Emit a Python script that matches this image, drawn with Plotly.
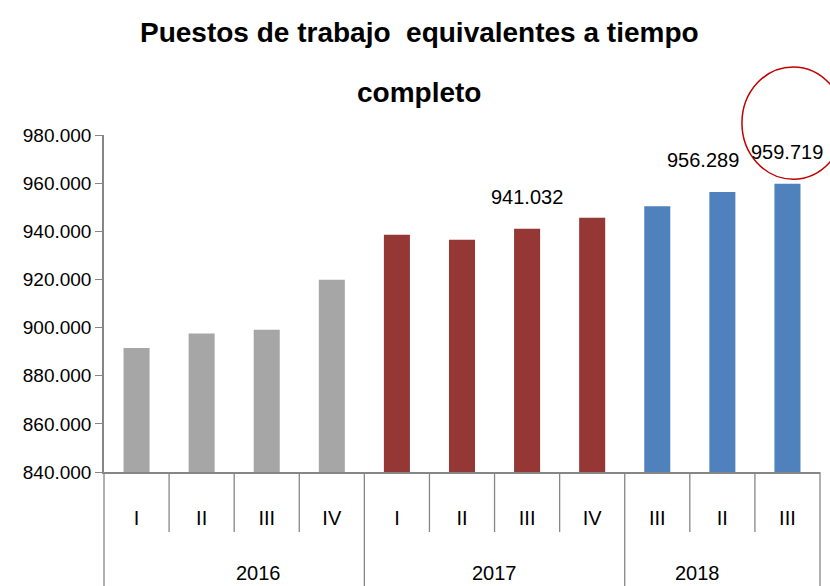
import plotly.graph_objects as go

years = ["2016", "2017", "2018"]
quarters = ["I", "II", "III", "IV", "I", "II", "III", "IV", "III", "II", "III"]
year_of_bar = ["2016"] * 4 + ["2017"] * 4 + ["2018"] * 3
values = [891500, 897500, 899100, 919900,
          938600, 936500, 941032, 945600,
          950400, 956289, 959719]
year_colors = {"2016": "#A6A6A6", "2017": "#953735", "2018": "#4F81BD"}
labelled_bars = [6, 9, 10]
label_xshift = {6: 0, 9: -19, 10: 0}

FONT = "Liberation Sans, Arial, sans-serif"
AXIS = "#868686"

n = len(values)
xs = list(range(n))

fig = go.Figure()
fig.add_trace(go.Bar(
    x=xs, y=values, width=0.4,
    marker=dict(color=[year_colors[y] for y in year_of_bar], line=dict(width=0)),
    hoverinfo="skip", showlegend=False,
))

def fmt(v):
    return f"{v:,}".replace(",", ".")

annotations = []
for i in labelled_bars:
    annotations.append(dict(
        x=i, y=values[i], xref="x", yref="y", text=fmt(values[i]),
        showarrow=False, yanchor="bottom", yshift=19, xshift=label_xshift[i],
        font=dict(family=FONT, size=20, color="#000000"),
    ))

# year labels
for yr in years:
    idx = [i for i, y in enumerate(year_of_bar) if y == yr]
    center = (idx[0] + idx[-1]) / 2
    annotations.append(dict(
        x=(center + 0.5) / n, y=-0.30, xref="paper", yref="paper", text=yr,
        showarrow=False, yanchor="middle",
        font=dict(family=FONT, size=20, color="#000000"),
    ))

# title lines
annotations.append(dict(x=0.44, y=1.3036, xref="paper", yref="paper",
                        text="<b>Puestos de trabajo  equivalentes a tiempo</b>",
                        showarrow=False, yanchor="middle",
                        font=dict(family=FONT, size=28, color="#000000")))
annotations.append(dict(x=0.44, y=1.1256, xref="paper", yref="paper",
                        text="<b>completo</b>",
                        showarrow=False, yanchor="middle",
                        font=dict(family=FONT, size=28, color="#000000")))

shapes = []
# separators below x-axis
year_bounds = [0]
for k in range(1, n):
    if year_of_bar[k] != year_of_bar[k - 1]:
        year_bounds.append(k)
year_bounds.append(n)
for b in range(n + 1):
    is_year = b in year_bounds
    shapes.append(dict(type="line", xref="paper", yref="paper",
                       x0=b / n, x1=b / n, y0=0, y1=(-0.34 if is_year else -0.178),
                       line=dict(color=AXIS, width=1.3)))

# red circle highlight
shapes.append(dict(type="circle", xref="paper", yref="paper",
                   x0=0.891, x1=1.034, y0=0.869, y1=1.202,
                   line=dict(color="#C00000", width=1.5)))

fig.update_layout(
    width=830, height=586,
    margin=dict(l=104, r=10, t=135, b=114),
    paper_bgcolor="white", plot_bgcolor="white",
    separators=",.",
    bargap=0.6,
    annotations=annotations, shapes=shapes,
    font=dict(family=FONT, color="#000000"),
)
fig.update_xaxes(
    range=[-0.5, n - 0.5], tickmode="array", tickvals=xs, ticktext=quarters,
    showline=True, linecolor=AXIS, linewidth=1.5,
    ticks="outside", ticklen=27, tickcolor="rgba(0,0,0,0)",
    tickfont=dict(family=FONT, size=20, color="#000000"),
    showgrid=False, zeroline=False, automargin=False,
)
fig.update_yaxes(
    range=[840000, 980000], dtick=20000, tickformat=",d",
    showline=True, linecolor=AXIS, linewidth=1.5,
    ticks="outside", ticklen=7, tickcolor=AXIS,
    tickfont=dict(family=FONT, size=19, color="#000000"),
    showgrid=False, zeroline=False, automargin=False,
)

fig.write_html("out.html", config={"displayModeBar": False},
               post_script="document.body.style.margin='0px';")
